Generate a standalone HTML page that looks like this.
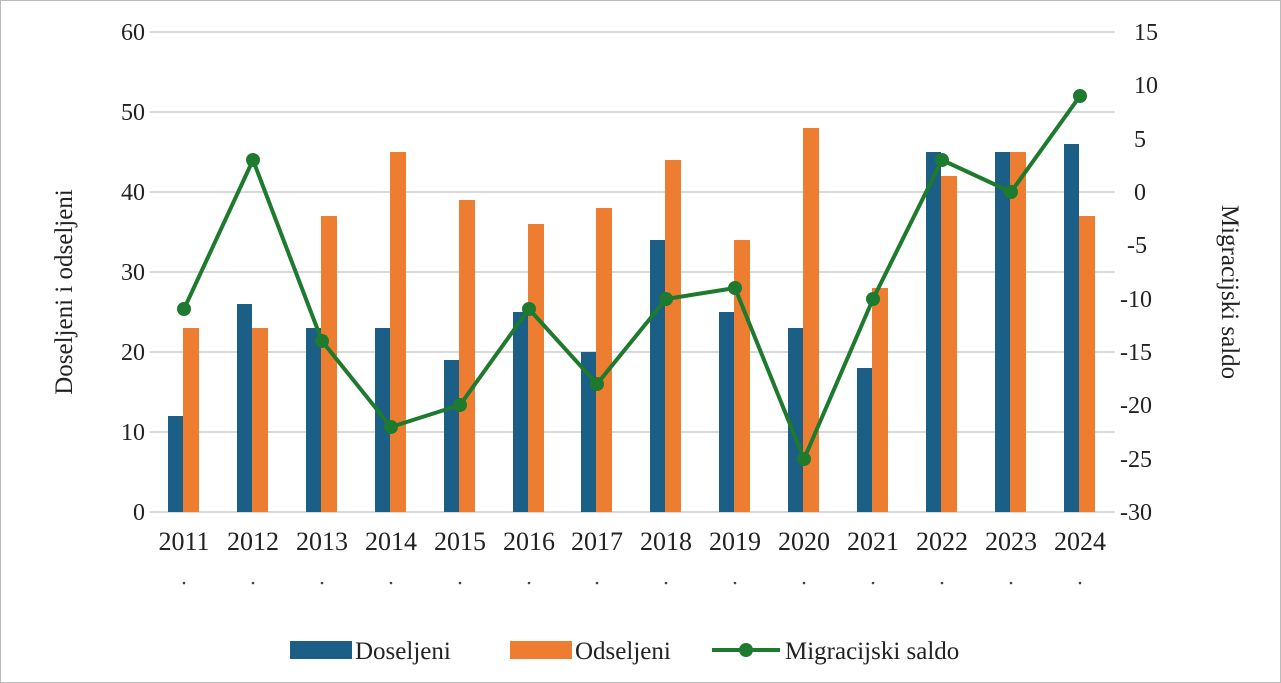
<!DOCTYPE html>
<html><head><meta charset="utf-8"><style>
html,body{margin:0;padding:0;background:#fff}
svg{display:block;font-family:"Liberation Serif",serif}
</style></head><body>
<svg width="1281" height="683" viewBox="0 0 1281 683">
<rect x="0.5" y="0.5" width="1280" height="682" fill="#fff" stroke="#bbb"/>
<g stroke="#d9d9d9" stroke-width="2">
<line x1="150" x2="1115" y1="32" y2="32"/><line x1="150" x2="1115" y1="112" y2="112"/>
<line x1="150" x2="1115" y1="192" y2="192"/><line x1="150" x2="1115" y1="272" y2="272"/>
<line x1="150" x2="1115" y1="352" y2="352"/><line x1="150" x2="1115" y1="432" y2="432"/>
<line x1="150" x2="1115" y1="512" y2="512"/>
</g>
<g font-size="24" fill="#222" text-anchor="end">
<text x="145" y="40">60</text><text x="145" y="120">50</text><text x="145" y="200">40</text>
<text x="145" y="280">30</text><text x="145" y="360">20</text><text x="145" y="440">10</text><text x="145" y="520">0</text>
</g>
<g font-size="24" fill="#222" text-anchor="start">
<text x="1134" y="40">15</text><text x="1134" y="93">10</text><text x="1134" y="147">5</text>
<text x="1134" y="200">0</text><text x="1127" y="253">-5</text><text x="1120" y="307">-10</text>
<text x="1120" y="360">-15</text><text x="1120" y="413">-20</text><text x="1120" y="467">-25</text><text x="1120" y="520">-30</text>
</g>
<text transform="translate(72,292) rotate(-90)" font-size="25" fill="#222" text-anchor="middle">Doseljeni i odseljeni</text>
<text transform="translate(1222,292) rotate(90)" font-size="25" fill="#222" text-anchor="middle">Migracijski saldo</text>
<g fill="#1b5e86">
<rect x="168" y="416" width="15" height="96"/><rect x="237" y="304" width="15" height="208"/>
<rect x="306" y="328" width="15" height="184"/><rect x="375" y="328" width="15" height="184"/>
<rect x="444" y="360" width="15" height="152"/><rect x="513" y="312" width="15" height="200"/>
<rect x="581" y="352" width="15" height="160"/><rect x="650" y="240" width="15" height="272"/>
<rect x="719" y="312" width="15" height="200"/><rect x="788" y="328" width="15" height="184"/>
<rect x="857" y="368" width="15" height="144"/><rect x="926" y="152" width="15" height="360"/>
<rect x="995" y="152" width="15" height="360"/><rect x="1064" y="144" width="15" height="368"/>
</g>
<g fill="#ed7d31">
<rect x="183" y="328" width="16" height="184"/><rect x="252" y="328" width="16" height="184"/>
<rect x="321" y="216" width="16" height="296"/><rect x="390" y="152" width="16" height="360"/>
<rect x="459" y="200" width="16" height="312"/><rect x="528" y="224" width="16" height="288"/>
<rect x="596" y="208" width="16" height="304"/><rect x="665" y="160" width="16" height="352"/>
<rect x="734" y="240" width="16" height="272"/><rect x="803" y="128" width="16" height="384"/>
<rect x="872" y="288" width="16" height="224"/><rect x="941" y="176" width="16" height="336"/>
<rect x="1010" y="152" width="16" height="360"/><rect x="1079" y="216" width="16" height="296"/>
</g>
<polyline fill="none" stroke="#1e7a2e" stroke-width="4" stroke-linejoin="round" points="184,309 253,160 322,341 391,427 460,405 529,309 597,384 666,299 735,288 804,459 873,299 942,160 1011,192 1080,96"/>
<g fill="#1e7a2e">
<circle cx="184" cy="309" r="7"/><circle cx="253" cy="160" r="7"/><circle cx="322" cy="341" r="7"/>
<circle cx="391" cy="427" r="7"/><circle cx="460" cy="405" r="7"/><circle cx="529" cy="309" r="7"/>
<circle cx="597" cy="384" r="7"/><circle cx="666" cy="299" r="7"/><circle cx="735" cy="288" r="7"/>
<circle cx="804" cy="459" r="7"/><circle cx="873" cy="299" r="7"/><circle cx="942" cy="160" r="7"/>
<circle cx="1011" cy="192" r="7"/><circle cx="1080" cy="96" r="7"/>
</g>
<g font-size="26" fill="#222" text-anchor="middle">
<text x="184" y="550">2011</text><text x="253" y="550">2012</text><text x="322" y="550">2013</text>
<text x="391" y="550">2014</text><text x="460" y="550">2015</text><text x="529" y="550">2016</text>
<text x="597" y="550">2017</text><text x="666" y="550">2018</text><text x="735" y="550">2019</text>
<text x="804" y="550">2020</text><text x="873" y="550">2021</text><text x="942" y="550">2022</text>
<text x="1011" y="550">2023</text><text x="1080" y="550">2024</text>
</g>
<g fill="#444">
<circle cx="184" cy="583" r="1.3"/><circle cx="253" cy="583" r="1.3"/><circle cx="322" cy="583" r="1.3"/>
<circle cx="391" cy="583" r="1.3"/><circle cx="460" cy="583" r="1.3"/><circle cx="529" cy="583" r="1.3"/>
<circle cx="597" cy="583" r="1.3"/><circle cx="666" cy="583" r="1.3"/><circle cx="735" cy="583" r="1.3"/>
<circle cx="804" cy="583" r="1.3"/><circle cx="873" cy="583" r="1.3"/><circle cx="942" cy="583" r="1.3"/>
<circle cx="1011" cy="583" r="1.3"/><circle cx="1080" cy="583" r="1.3"/>
</g>
<rect x="290" y="641" width="62" height="18" fill="#1b5e86"/>
<text x="355" y="659" font-size="25" fill="#222">Doseljeni</text>
<rect x="510" y="641" width="62" height="18" fill="#ed7d31"/>
<text x="575" y="659" font-size="25" fill="#222">Odseljeni</text>
<line x1="712" x2="780" y1="650" y2="650" stroke="#1e7a2e" stroke-width="4"/>
<circle cx="746" cy="650" r="7" fill="#1e7a2e"/>
<text x="785" y="659" font-size="25" fill="#222">Migracijski saldo</text>
</svg>
</body></html>
